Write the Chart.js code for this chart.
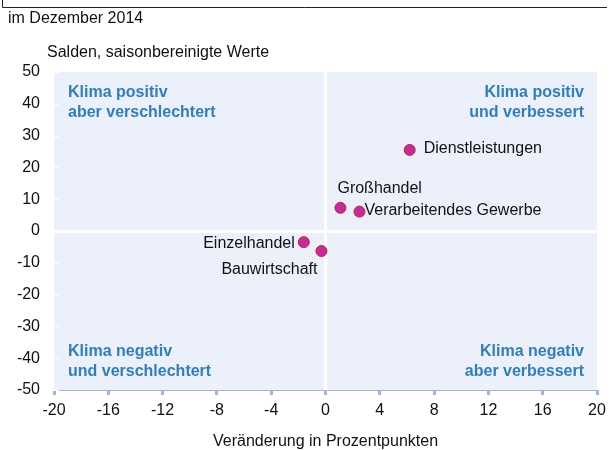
<!DOCTYPE html>
<html>
<head>
<meta charset="utf-8">
<script src="https://cdn.jsdelivr.net/npm/chart.js@4"></script>
<style>
  html, body { margin: 0; padding: 0; background: #fff; }
  #wrap { width: 613px; height: 450px; position: relative; }
</style>
</head>
<body>
<div id="wrap"><canvas id="chart" width="613" height="450"></canvas></div>
<script>
// sectors and their position: change of climate (x) vs. level (y)
const sectors = ['Dienstleistungen', 'Großhandel', 'Verarbeitendes Gewerbe', 'Einzelhandel', 'Bauwirtschaft'];
const changeValues = [6.2, 1.1, 2.5, -1.6, -0.3];
const levelValues = [25.5, 7.3, 6.1, -3.5, -6.3];
const labelSides = ['right', 'top', 'right', 'left', 'bottomleft'];

const xTicks = [-20, -16, -12, -8, -4, 0, 4, 8, 12, 16, 20];
const yTicks = [-50, -40, -30, -20, -10, 0, 10, 20, 30, 40, 50];

const quadrants = [
  { lines: ['Klima positiv', 'aber verschlechtert'], corner: 'tl' },
  { lines: ['Klima positiv', 'und verbessert'], corner: 'tr' },
  { lines: ['Klima negativ', 'und verschlechtert'], corner: 'bl' },
  { lines: ['Klima negativ', 'aber verbessert'], corner: 'br' }
];

const FONT = '"Liberation Sans", Arial, sans-serif';
const AXIS_COLOR = '#a0b6e0';
const BLUE = '#2f7ec1';

const decorations = {
  id: 'decorations',
  beforeDraw(chart) {
    const { ctx, chartArea: a } = chart;
    ctx.save();
    ctx.fillStyle = '#ecf0fa';
    ctx.fillRect(a.left, a.top, a.right - a.left, a.bottom - a.top);
    ctx.restore();
  },
  afterDatasetsDraw(chart) {
    const { ctx, chartArea: a, scales } = chart;
    ctx.save();

    // top frame
    ctx.strokeStyle = '#222';
    ctx.lineWidth = 1;
    ctx.beginPath();
    ctx.moveTo(2.5, 0);
    ctx.lineTo(2.5, 7.5);
    ctx.lineTo(607, 7.5);
    ctx.stroke();

    ctx.fillStyle = '#111';
    ctx.font = '16px ' + FONT;
    ctx.textBaseline = 'middle';
    ctx.textAlign = 'left';
    ctx.fillText('im Dezember 2014', 8, 19);
    ctx.fillText('Salden, saisonbereinigte Werte', 47, 53);
    ctx.textAlign = 'center';
    ctx.fillText('Veränderung in Prozentpunkten', (a.left + a.right) / 2, 442);

    // white tick marks on the y side
    ctx.strokeStyle = '#fff';
    ctx.lineWidth = 1;
    yTicks.forEach(v => {
      const y = Math.round(scales.y.getPixelForValue(v)) + 0.5;
      ctx.beginPath();
      ctx.moveTo(a.left, y);
      ctx.lineTo(a.left + 5, y);
      ctx.stroke();
    });

    // quadrant labels
    ctx.fillStyle = BLUE;
    ctx.font = 'bold 16px ' + FONT;
    quadrants.forEach(q => {
      const right = q.corner[1] === 'r';
      const top = q.corner[0] === 't';
      ctx.textAlign = right ? 'right' : 'left';
      const x = right ? a.right - 13 : a.left + 14;
      const y0 = top ? a.top + 21 : a.bottom - 38;
      q.lines.forEach((line, i) => ctx.fillText(line, x, y0 + i * 20));
    });

    // point labels
    ctx.fillStyle = '#111';
    ctx.font = '16px ' + FONT;
    const meta = chart.getDatasetMeta(0);
    meta.data.forEach((pt, i) => {
      const side = labelSides[i];
      if (side === 'right') {
        ctx.textAlign = 'left';
        ctx.fillText(sectors[i], pt.x + (i === 0 ? 14 : 5), pt.y - 1);
      } else if (side === 'left') {
        ctx.textAlign = 'right';
        ctx.fillText(sectors[i], pt.x - 9, pt.y + 1);
      } else if (side === 'top') {
        ctx.textAlign = 'left';
        ctx.fillText(sectors[i], pt.x - 3, pt.y - 19);
      } else {
        ctx.textAlign = 'right';
        ctx.fillText(sectors[i], pt.x - 4, pt.y + 19);
      }
    });
    ctx.restore();
  }
};

new Chart(document.getElementById('chart'), {
  type: 'scatter',
  data: {
    datasets: [{
      data: changeValues.map((x, i) => ({ x: x, y: levelValues[i] })),
      pointRadius: 5.5,
      pointHoverRadius: 5.5,
      pointBackgroundColor: '#c62a9e',
      pointBorderColor: '#c0282c',
      pointBorderWidth: 1
    }]
  },
  options: {
    responsive: false,
    animation: false,
    events: [],
    layout: { padding: { left: 0, top: 72, right: 16, bottom: 0 } },
    plugins: { legend: { display: false }, tooltip: { enabled: false } },
    scales: {
      x: {
        type: 'linear',
        min: -20, max: 20,
        afterFit: s => { s.height = 60; },
        afterBuildTicks: s => { s.ticks = xTicks.map(v => ({ value: v })); },
        ticks: { color: '#111', font: { family: FONT, size: 16 }, padding: 6, maxRotation: 0 },
        grid: {
          drawTicks: true,
          tickLength: 5,
          tickColor: AXIS_COLOR,
          lineWidth: 3,
          color: c => (c.tick && c.tick.value === 0 ? '#ffffff' : 'rgba(0,0,0,0)')
        },
        border: { display: true, color: AXIS_COLOR, width: 1 }
      },
      y: {
        type: 'linear',
        min: -50, max: 50,
        afterFit: s => { s.width = 54; },
        afterBuildTicks: s => { s.ticks = yTicks.map(v => ({ value: v })); },
        ticks: { color: '#111', font: { family: FONT, size: 16 }, padding: 14 },
        grid: {
          drawTicks: false,
          lineWidth: 3,
          color: c => (c.tick && c.tick.value === 0 ? '#ffffff' : 'rgba(0,0,0,0)')
        },
        border: { display: false }
      }
    }
  },
  plugins: [decorations]
});
</script>
</body>
</html>
